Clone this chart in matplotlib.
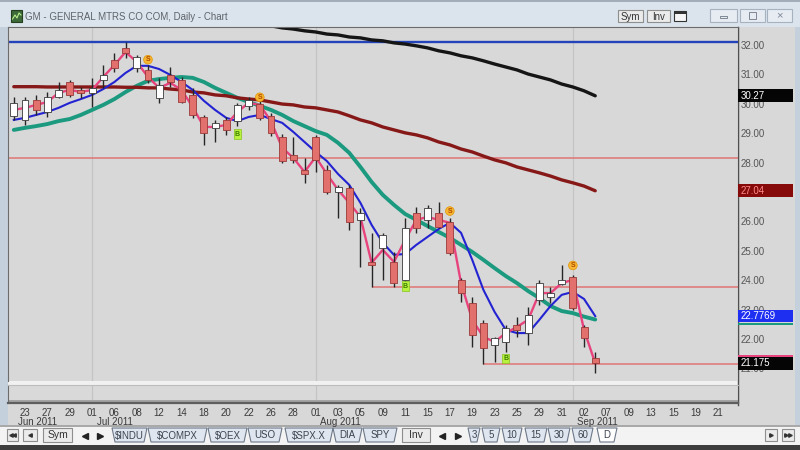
import matplotlib;
matplotlib.use( 'Agg' );
import matplotlib.pyplot as plt;
import numpy as np;

from matplotlib.patches import Rectangle, Polygon;
from matplotlib.transforms import blended_transform_factory;

plt.rcParams['font.family'] = [ 'Liberation Sans', 'DejaVu Sans' ];


TITLE = 'GM - GENERAL MTRS CO COM, Daily - Chart';

# daily bars, first one is Jun 22 2011 (bar index -1), Jun 23 is bar 0
FIRST_BAR = -1;

OPENs  = [ 29.59, 29.45, 30.13, 29.72, 30.23, 30.74, 30.47, 30.37, 30.81, 31.49,
           31.90, 31.22, 31.15, 30.20, 30.98, 30.81, 30.30, 29.55, 29.18, 29.45,
           29.41, 29.93, 29.99, 29.59, 28.87, 28.26, 27.75, 28.87, 27.75, 27.00,
           27.14, 26.05, 24.62, 25.10, 24.62, 24.01, 26.29, 26.05, 26.29, 25.98,
           24.01, 23.22, 22.54, 21.80, 21.90, 22.48, 22.20, 23.33, 23.43, 23.87,
           24.11, 22.41, 21.35 ];
HIGHs  = [ 30.23, 30.23, 30.30, 30.40, 30.74, 30.81, 30.57, 30.88, 31.32, 31.73,
           32.10, 31.66, 31.32, 30.88, 31.25, 30.91, 30.54, 29.62, 29.45, 29.55,
           30.03, 30.23, 30.16, 29.69, 28.97, 28.87, 28.16, 28.94, 27.92, 27.24,
           27.24, 26.46, 25.61, 25.61, 24.96, 26.12, 26.49, 26.56, 26.66, 26.12,
           24.07, 23.43, 22.65, 22.07, 22.48, 22.75, 23.09, 24.01, 23.77, 24.52,
           24.18, 22.48, 21.56 ];
LOWs   = [ 29.45, 29.28, 29.62, 29.55, 30.20, 30.23, 30.20, 29.89, 30.54, 31.08,
           31.56, 31.08, 30.71, 30.03, 30.57, 30.03, 29.52, 28.60, 28.70, 28.94,
           29.25, 29.79, 29.45, 28.90, 27.99, 27.99, 27.31, 27.68, 26.93, 26.12,
           25.71, 24.45, 23.77, 24.01, 23.77, 23.90, 25.61, 25.78, 25.78, 24.86,
           23.26, 21.73, 21.16, 21.22, 21.56, 22.07, 21.80, 23.16, 23.22, 23.84,
           22.98, 21.73, 20.84 ];
CLOSEs = [ 30.03, 30.13, 29.79, 30.23, 30.47, 30.30, 30.37, 30.54, 30.98, 31.22,
           31.73, 31.59, 30.81, 30.64, 30.74, 30.06, 29.62, 29.01, 29.35, 29.11,
           29.96, 30.13, 29.52, 29.01, 28.05, 28.09, 27.61, 28.09, 27.00, 27.17,
           25.98, 26.29, 24.52, 25.54, 23.90, 25.78, 25.78, 26.46, 25.81, 24.93,
           23.56, 22.14, 21.69, 22.03, 22.37, 22.31, 22.82, 23.90, 23.56, 24.01,
           23.05, 22.03, 21.18 ];

# overlay lines, same bars
PINK_LINE  = [ 29.79, 29.86, 29.96, 30.06, 30.37, 30.47, 30.40, 30.47, 30.91, 31.32,
               31.76, 31.42, 30.91, 30.54, 30.71, 30.47, 29.89, 29.21, 29.21, 29.28,
               29.72, 30.03, 29.96, 29.41, 28.50, 28.16, 27.68, 28.19, 27.61, 27.07,
               26.63, 26.15, 24.59, 25.03, 24.62, 25.37, 26.05, 26.15, 26.05, 25.95,
               23.90, 22.65, 22.07, 21.90, 22.20, 22.41, 22.65, 23.56, 23.56, 23.90,
               24.01, 22.31, 21.175 ];
BLUE_MA    = [ 29.45, 29.52, 29.62, 29.72, 29.86, 30.03, 30.16, 30.30, 30.50, 30.74,
               31.05, 31.29, 31.29, 31.18, 30.98, 30.74, 30.47, 30.10, 29.79, 29.52,
               29.41, 29.55, 29.62, 29.48, 29.35, 29.04, 28.70, 28.36, 28.05, 27.61,
               27.24, 26.63, 25.88, 25.27, 24.86, 24.89, 25.20, 25.47, 25.74, 25.95,
               25.61, 24.69, 23.67, 22.92, 22.31, 22.20, 22.20, 22.65, 23.12, 23.50,
               23.60, 23.36, 22.7769 ];
TEAL_MA    = [ 29.11, 29.18, 29.24, 29.31, 29.41, 29.48, 29.62, 29.79, 29.96, 30.16,
               30.40, 30.61, 30.78, 30.84, 30.88, 30.91, 30.88, 30.74, 30.54, 30.37,
               30.20, 30.06, 29.93, 29.79, 29.62, 29.41, 29.24, 29.07, 28.94, 28.67,
               28.33, 27.85, 27.34, 26.90, 26.56, 26.25, 26.05, 25.84, 25.64, 25.44,
               25.20, 24.96, 24.69, 24.41, 24.14, 23.90, 23.63, 23.39, 23.12, 22.95,
               22.88, 22.76, 22.66 ];
MAROON_MA  = [ 30.58, 30.58, 30.58, 30.57, 30.57, 30.57, 30.57, 30.57, 30.57, 30.57,
               30.56, 30.56, 30.54, 30.54, 30.50, 30.47, 30.40, 30.37, 30.30, 30.27,
               30.20, 30.16, 30.13, 30.06, 29.99, 29.96, 29.89, 29.86, 29.79, 29.72,
               29.59, 29.45, 29.35, 29.21, 29.11, 29.01, 28.94, 28.84, 28.70, 28.60,
               28.46, 28.36, 28.22, 28.09, 27.99, 27.85, 27.75, 27.65, 27.54, 27.41,
               27.31, 27.20, 27.04 ];
BLACK_START = 21;
BLACK_MA   = [ 32.68, 32.65, 32.58, 32.54, 32.48, 32.44, 32.37, 32.34, 32.27, 32.24,
               32.17, 32.14, 32.07, 32.03, 31.97, 31.90, 31.80, 31.73, 31.63, 31.56,
               31.46, 31.35, 31.25, 31.15, 31.01, 30.91, 30.81, 30.67, 30.57, 30.44,
               30.27 ];

# drawn lines: resistance at the july high, supports from the lows
RESIST_LVL   = 32.10;
SUPPORT_LVLs = [ 28.15, 23.77, 21.16 ];
SUPPORT_FROM = [ -2, 31, 41 ];

SELL_BARs = [ 11, 21, 38, 49 ];
SELL_PXs  = [ 31.50, 30.22, 26.35, 24.50 ];
BUY_BARs  = [ 19, 34, 43 ];
BUY_PXs   = [ 28.97, 23.80, 21.32 ];

# last value boxes on the price scale
LAST_VALs  = [ 30.27, 27.04, 22.7769, 21.175 ];
LAST_TEXTs = [ '30.27', '27.04', '22.7769', '21.175' ];

# 27.00 sits fully under the 27.04 box, so it gets no label
PRICE_TICKs = [ 21, 22, 23, 24, 25, 26, 28, 29, 30, 31, 32 ];

DAY_LABELs = [ '23', '27', '29', '01', '06', '08', '12', '14', '18', '20', '22',
               '26', '28', '01', '03', '05', '09', '11', '15', '17', '19', '23',
               '25', '29', '31', '02', '07', '09', '13', '15', '19', '21' ];
LABEL_EVERY = 2;
MONTH_LABELs = [ 'Jun 2011', 'Jul 2011', 'Aug 2011', 'Sep 2011' ];
MONTH_STARTs = [ -1, 6, 26, 49 ];

SYM_TABs = [ '$INDU', '$COMPX', '$OEX', 'USO', '$SPX.X', 'DIA', 'SPY' ];
INT_TABs = [ '3', '5', '10', '15', '30', '60', 'D' ];


W, H = 800, 450;
XLIM = ( -1.52, 63.77 );
YLIM = ( 20.57, 32.61 );


def px_rect( x0, y0, x1, y1 ):
  return [ x0/W, 1.0 - y1/H, (x1-x0)/W, (y1-y0)/H ];

def box( bg, x0, y0, x1, y1, fc, ec='none', lw=0.8, z=1 ):
  bg.add_patch( Rectangle( (x0, y0), x1-x0, y1-y0, fc=fc, ec=ec, lw=lw, zorder=z ) );

def button( bg, x0, y0, x1, y1, label, fs=7 ):
  box( bg, x0, y0, x1, y1, '#ebebeb', ec='#8e8e8e', z=3 );
  bg.text( (x0+x1)/2, (y0+y1)/2+0.5, label, ha='center', va='center', fontsize=fs,
           color='#333333', zorder=4 );

def tab( bg, x0, x1, label, fc ):
  bg.add_patch( Polygon( [ (x0, 428), (x1, 428), (x1-3, 442), (x0+3, 442) ], closed=True,
                         fc=fc, ec='#6d7888', lw=0.8, zorder=3 ) );
  bg.text( (x0+x1)/2, 435.5, label, ha='center', va='center', fontsize=7, color='#3c4450',
           zorder=4 );


def chrome( bg ):

  box( bg, 0, 0, W, H, '#dde3ea' );
  box( bg, 0, 0, W, 27, '#dbe3ec' );
  box( bg, 0, 0, W, 2, '#a3adb9' );

  # title bar
  box( bg, 11, 10, 22, 22, '#3d6a38', ec='#22401d', z=2 );
  bg.plot( [ 12.5, 15, 17, 19, 21 ], [ 19, 15, 18, 13, 15 ], color='#b9f08e', lw=0.8, zorder=3 );
  bg.text( 25, 16.5, TITLE, fontsize=7, color='#5e646c', va='center' );
  button( bg, 618, 10, 643, 22, 'Sym' );
  button( bg, 647, 10, 670, 22, 'Inv' );
  box( bg, 674, 11, 686, 21, '#f6f6f6', ec='#333333', z=3 );
  box( bg, 674, 11, 686, 13.5, '#333333', z=4 );
  for ( x0, x1 ) in [ (710, 737), (740, 765), (767, 792) ]:
    box( bg, x0, 9, x1, 22, '#e6ecf2', ec='#a7b2c0', z=3 );
  box( bg, 720, 16, 727, 18, 'none', ec='#7d8794', lw=0.7, z=4 );
  box( bg, 749, 12, 756, 19, 'none', ec='#7d8794', lw=0.7, z=4 );
  bg.text( 779.5, 15.5, '\u00d7', ha='center', va='center', fontsize=8, color='#7d8794', zorder=4 );

  # frame, chart area and bottom strips
  box( bg, 0, 27, 8, 425, '#c5d0dd' );
  box( bg, 795, 27, W, 425, '#c5d0dd' );
  box( bg, 8, 27, 795, 425, '#d8d8d8' );
  box( bg, 8, 381, 738, 385, '#f1f1f1' );
  bg.plot( [ 738, 738 ], [ 27, 405 ], color='#505050', lw=1.0, zorder=2 );
  box( bg, 0, 425, W, 445, '#f3f3f3' );
  box( bg, 0, 425, W, 426.5, '#a9a9a9' );
  box( bg, 0, 445, W, H, '#3d3d3d' );

  # bottom tab bar
  button( bg, 7, 429, 18, 441, '' );
  bg.plot( [ 10.5, 14 ], [ 435, 435 ], marker='<', ms=2.5, ls='', color='#333333', zorder=5 );
  button( bg, 23, 429, 37, 441, '' );
  bg.plot( [ 30 ], [ 435 ], marker='<', ms=2.5, color='#333333', zorder=5 );
  button( bg, 43, 428, 72, 442, 'Sym', fs=7.5 );
  bg.plot( [ 85 ], [ 436 ], marker='<', ms=5, color='#222222', zorder=5 );
  bg.plot( [ 100 ], [ 436 ], marker='>', ms=5, color='#222222', zorder=5 );
  for ( label, ( x0, x1 ) ) in zip( SYM_TABs, [ (112, 147), (148, 207), (208, 247), (248, 282),
                                                (285, 333), (333, 362), (363, 397) ] ):
    tab( bg, x0, x1, label, '#dfe6ef' );
  button( bg, 402, 428, 430, 442, 'Inv', fs=7.5 );
  bg.plot( [ 442 ], [ 436 ], marker='<', ms=5, color='#222222', zorder=5 );
  bg.plot( [ 458 ], [ 436 ], marker='>', ms=5, color='#222222', zorder=5 );
  for ( label, ( x0, x1 ) ) in zip( INT_TABs, [ (468, 480), (482, 500), (502, 522), (525, 547),
                                                (548, 570), (572, 593), (597, 617) ] ):
    tab( bg, x0, x1, label, '#ffffff' if label == 'D' else '#dfe6ef' );
  button( bg, 765, 429, 777, 441, '' );
  bg.plot( [ 771 ], [ 435 ], marker='>', ms=2.5, color='#333333', zorder=5 );
  button( bg, 782, 429, 794, 441, '' );
  bg.plot( [ 786, 789.5 ], [ 435, 435 ], marker='>', ms=2.5, ls='', color='#333333', zorder=5 );


def price_panel( fig, bg ):

  ax = fig.add_axes( px_rect( 8, 27, 738, 381 ) );
  ax.set_facecolor( '#d8d8d8' );
  ax.set_xlim( *XLIM );
  ax.set_ylim( *YLIM );
  ax.spines['top'].set_color( '#6c6c6c' );
  ax.spines['left'].set_color( '#6c6c6c' );
  ax.spines['right'].set_color( '#505050' );
  ax.spines['bottom'].set_visible( False );
  ax.set_xticks( [] );
  ax.yaxis.tick_right();
  ax.set_yticks( PRICE_TICKs );
  ax.set_yticklabels( [ '%.2f' % v for v in PRICE_TICKs ] );
  ax.tick_params( axis='y', length=0, pad=2, labelsize=7, labelcolor='#555555' );

  for m in MONTH_STARTs[1:]:
    ax.axvline( m, color='#c4c4c4', lw=0.9, zorder=0.5 );

  ax.axhline( RESIST_LVL, color='#2443b8', lw=1.7, zorder=1 );
  for ( lvl, start ) in zip( SUPPORT_LVLs, SUPPORT_FROM ):
    ax.hlines( lvl, start, XLIM[1] + 1, color='#e07474', lw=1.1, zorder=1 );

  bars = np.arange( FIRST_BAR, FIRST_BAR + len( CLOSEs ) );
  ax.plot( bars, TEAL_MA, color='#1b9a80', lw=2.8, zorder=2, solid_capstyle='round' );
  ax.plot( bars, MAROON_MA, color='#861818', lw=2.4, zorder=2, solid_capstyle='round' );
  ax.plot( np.arange( BLACK_START, BLACK_START + len( BLACK_MA ) ), BLACK_MA,
           color='#151515', lw=2.4, zorder=2, solid_capstyle='round' );
  ax.plot( bars, BLUE_MA, color='#2323d2', lw=1.5, zorder=3 );
  ax.plot( bars, PINK_LINE, color='#e8437c', lw=1.7, zorder=3 );

  o = np.array( OPENs );
  c = np.array( CLOSEs );
  up = c >= o;
  ax.vlines( bars, LOWs, HIGHs, color='#262626', lw=1.0, zorder=5 );
  ax.bar( bars[up], (c-o)[up], bottom=o[up], width=0.62, color='white',
          edgecolor='#3a3a3a', lw=0.6, zorder=6 );
  ax.bar( bars[~up], (o-c)[~up], bottom=c[~up], width=0.62, color='#e2706c',
          edgecolor='#9a3a3a', lw=0.6, zorder=6 );

  for ( i, p ) in zip( SELL_BARs, SELL_PXs ):
    ax.text( i, p, 'S', ha='center', va='center', fontsize=5, color='#b04a00', fontweight='bold',
             bbox=dict( boxstyle='circle,pad=0.12', fc='#f7b733', ec='#e39400', lw=0.5 ), zorder=8 );
  for ( i, p ) in zip( BUY_BARs, BUY_PXs ):
    ax.text( i, p, 'B', ha='center', va='center', fontsize=5, color='#3d7d00', fontweight='bold',
             bbox=dict( boxstyle='square,pad=0.15', fc='#b8f23e', ec='#86c31c', lw=0.5 ), zorder=8 );

  # last value boxes on the scale
  tr = blended_transform_factory( ax.transAxes, ax.transData );
  styles = [ ( '#050505', 'white' ), ( '#860a0a', '#ff8a8a' ), ( '#1f2ff2', 'white' ),
             ( '#050505', 'white' ) ];
  for ( val, text, ( fc, tc ) ) in zip( LAST_VALs, LAST_TEXTs, styles ):
    ax.add_patch( Rectangle( (1.0, val - 0.215), 55/730, 0.43, transform=tr, fc=fc, ec='none',
                             clip_on=False, zorder=20 ) );
    ax.text( 1.004, val, text, transform=tr, ha='left', va='center', fontsize=7, color=tc,
             clip_on=False, zorder=21 );
  ax.add_patch( Rectangle( (1.0, LAST_VALs[2] - 0.29), 55/730, 0.07, transform=tr, fc='#1b9a80',
                           ec='none', clip_on=False, zorder=20 ) );
  ax.add_patch( Rectangle( (1.0, LAST_VALs[3] + 0.215), 55/730, 0.06, transform=tr, fc='#e8437c',
                           ec='none', clip_on=False, zorder=20 ) );

  bg.text( 10, 32.5, 'Price', fontsize=7, color='#222222', va='center', zorder=5 );
  return ax;


def macd_panel( fig, bg, ax ):

  mx = fig.add_axes( px_rect( 8, 385, 738, 403 ) );
  mx.set_facecolor( '#d9d9d9' );
  mx.set_xlim( *XLIM );
  mx.set_ylim( 0, 1 );
  mx.set_xticks( [] );
  mx.set_yticks( [] );
  mx.spines['top'].set_color( '#bdbdbd' );
  mx.spines['left'].set_color( '#6c6c6c' );
  mx.spines['right'].set_color( '#505050' );
  mx.spines['bottom'].set_color( '#5e5e5e' );
  mx.spines['bottom'].set_linewidth( 1.6 );
  mx.add_patch( Rectangle( (0, 0), 1, 3/18, transform=mx.transAxes, fc='#a4a4a4', ec='none' ) );
  for m in MONTH_STARTs[1:]:
    mx.axvline( m, color='#c4c4c4', lw=0.9, zorder=0.5 );
  bg.text( 10, 392, 'MACD (Close,9,81,81)', fontsize=6.5, color='#333333', va='center', zorder=5 );

  # date scale under the panels
  tr = blended_transform_factory( ax.transData, bg.transData );
  for ( k, lab ) in enumerate( DAY_LABELs ):
    bg.text( k*LABEL_EVERY, 412.5, lab, transform=tr, ha='center', va='center', fontsize=7,
             color='#3a3a3a', zorder=5 );
  for ( m, lab ) in zip( MONTH_STARTs, MONTH_LABELs ):
    bg.text( max( m + 0.4, XLIM[0] + 0.15 ), 422, lab, transform=tr, ha='left', va='center',
             fontsize=7, color='#3a3a3a', zorder=5 );


def main():

  fig = plt.figure( figsize=(8, 4.5), dpi=100 );
  bg = fig.add_axes( [ 0, 0, 1, 1 ] );
  bg.set_xlim( 0, W );
  bg.set_ylim( H, 0 );
  bg.axis( 'off' );

  chrome( bg );
  ax = price_panel( fig, bg );
  macd_panel( fig, bg, ax );

  fig.savefig( 'out.png', dpi=100 );


if __name__ == "__main__":

  main();
